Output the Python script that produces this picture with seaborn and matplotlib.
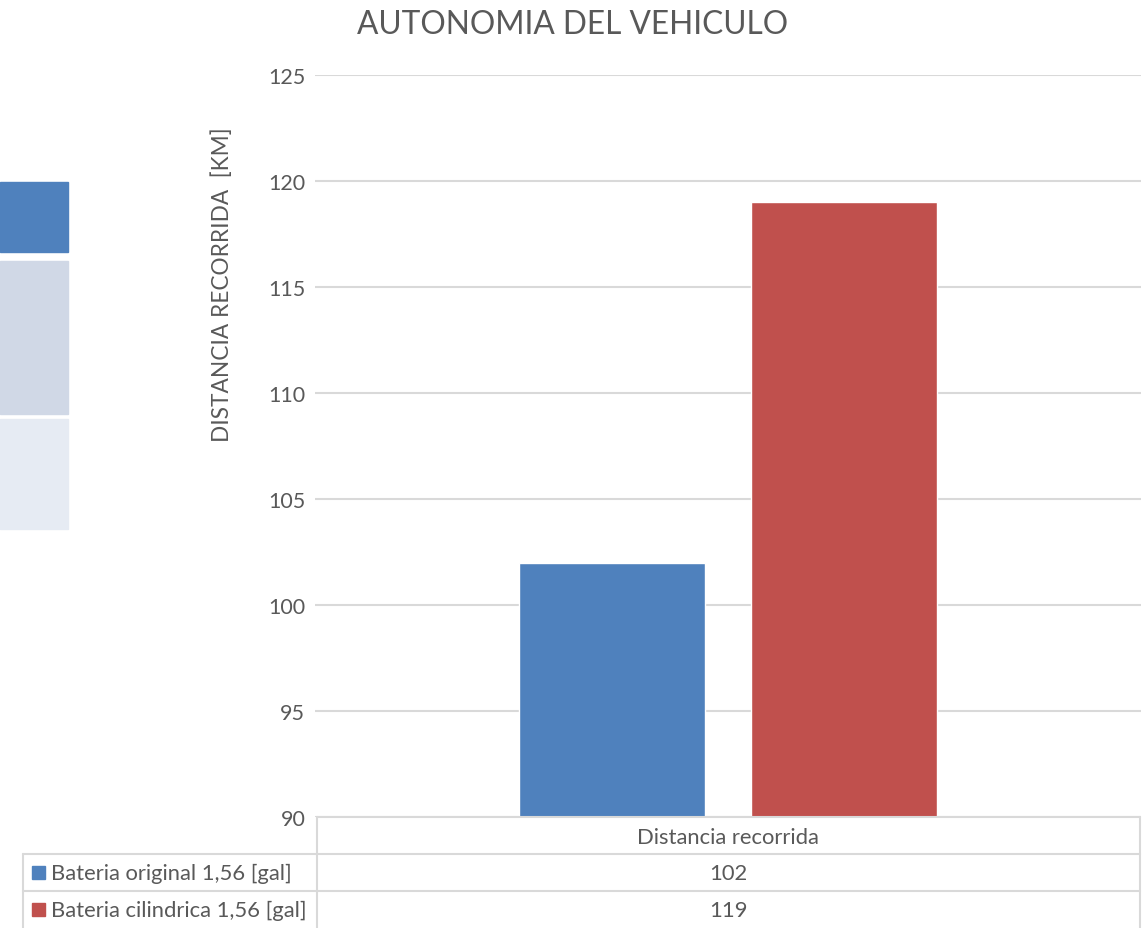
import matplotlib
matplotlib.use("Agg")
import matplotlib.pyplot as plt
import seaborn as sns
import pandas as pd
from matplotlib.patches import Rectangle

# data
categories = ["Distancia recorrida"]
series = ["Bateria original 1,56 [gal]", "Bateria cilindrica 1,56 [gal]"]
values = [102, 119]
colors = ["#4F81BD", "#C0504D"]
yticks = [90, 95, 100, 105, 110, 115, 120, 125]

df = pd.DataFrame({"cat": categories * len(series), "serie": series, "valor": values})

sns.set_theme(style="white")
plt.rcParams["font.family"] = ["Lato", "DejaVu Sans"]
txt = "#595959"
grid = "#D9D9D9"

fig = plt.figure(figsize=(11.42, 9.29), dpi=100)
W, H = 1142, 929
ax = fig.add_axes([315 / W, 1 - 818 / H, (1141 - 315) / W, (818 - 76) / H])

sns.barplot(data=df, x="cat", y="valor", hue="serie", palette=colors,
            width=0.562, gap=0.2, ax=ax, legend=False, saturation=1)

ax.set_ylim(90, 125)
ax.set_xlim(-0.5, 0.5)
ax.set_yticks(yticks)
ax.set_yticklabels([str(t) for t in yticks], fontsize=15.5, color=txt)
ax.tick_params(axis="y", length=0, pad=7)
ax.set_xticks([])
ax.set_xlabel("")
ax.set_ylabel("")
ax.grid(axis="y", color=grid, linewidth=1.5)
ax.set_axisbelow(True)
for s in ax.spines.values():
    s.set_visible(False)

fig.text(573 / W, 1 - 25 / H, "AUTONOMIA DEL VEHICULO", ha="center", va="center",
         fontsize=22.8, color=txt)
fig.text(222 / W, 1 - 285 / H, "DISTANCIA RECORRIDA  [KM]", ha="center", va="center",
         rotation=90, fontsize=16.3, color=txt)

# data table under the axes
def hline(x0, x1, y):
    fig.add_artist(plt.Line2D([x0 / W, x1 / W], [1 - y / H, 1 - y / H], color=grid, lw=1.5))

def vline(x, y0, y1):
    fig.add_artist(plt.Line2D([x / W, x / W], [1 - y0 / H, 1 - y1 / H], color=grid, lw=1.5))

hline(317, 1140, 818)
hline(23, 1140, 855)
hline(23, 1140, 892)
vline(317, 818, 929)
vline(1140, 818, 929)
vline(23, 855, 929)

fig.text(728 / W, 1 - 838 / H, categories[0], ha="center", va="center", fontsize=15.8, color=txt)
row_y = [874, 911]
for name, val, col, y in zip(series, values, colors, row_y):
    fig.text(728 / W, 1 - y / H, str(val), ha="center", va="center", fontsize=15.8, color=txt)
    fig.add_artist(Rectangle((32 / W, 1 - (y + 6) / H), 13 / W, 13 / H, color=col,
                             transform=fig.transFigure))
    fig.text(51 / W, 1 - y / H, name, ha="left", va="center", fontsize=15.8, color=txt)

# panels on left edge
for (y0, y1, c) in [(183, 253, "#4F81BD"), (262, 415, "#D0D8E6"), (420, 530, "#E6EBF3")]:
    fig.add_artist(Rectangle((0, 1 - y1 / H), 68 / W, (y1 - y0) / H, color=c,
                             transform=fig.transFigure))

fig.savefig("out.png", dpi=100)
